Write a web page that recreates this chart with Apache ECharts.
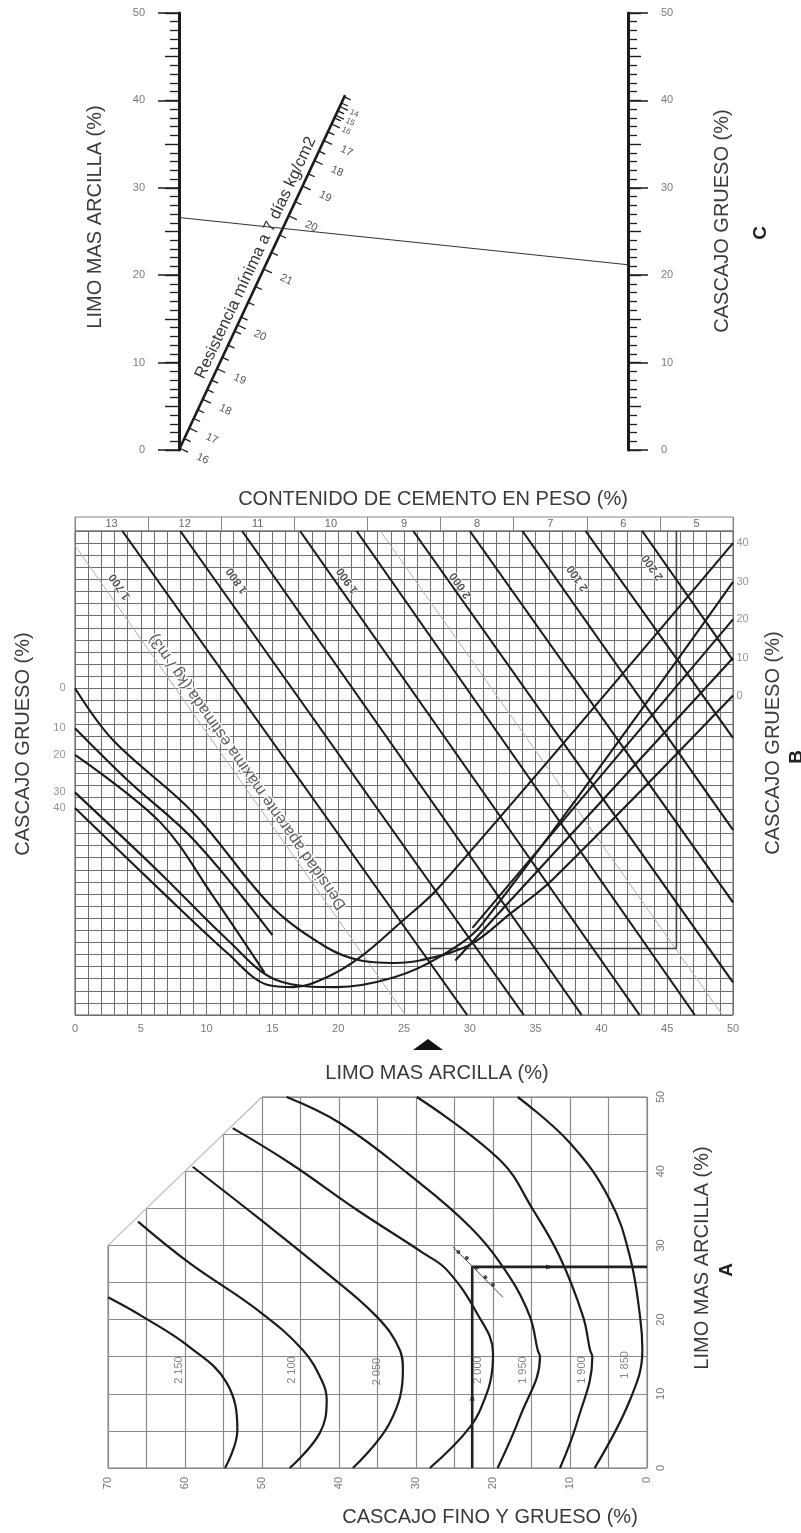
<!DOCTYPE html>
<html><head><meta charset="utf-8">
<script src="https://cdn.jsdelivr.net/npm/echarts@6/dist/echarts.min.js"></script>
<style>html,body{margin:0;padding:0;background:#fff}#c{width:801px;height:1533px}</style>
</head><body><div id="c"></div><script>
// ================= DATA =================
// ---- Panel C (nomograph) ----
const cLimoTicks = [0, 50];            // LIMO MAS ARCILLA scale range
const cCascajoTicks = [0, 50];         // CASCAJO GRUESO scale range
const cReadLine = [[0, 26.6], [100, 21.2]]; // reading line: LIMO 26.6 -> CASCAJO 21.2
const cDiagonal = [[0, 0], [37.0, 40.6]];   // resistance scale (x-position, LIMO level)
const cResLabels = ['16','17','18','19','20','21','20','19','18','17','16','15','14'];
const cResLabelPos = [0.2, 2.5, 5.8, 9.3, 14.3, 20.7, 26.8, 30.2, 33.1, 35.4, 37.3, 38.3, 39.3];
const cResMinorTicks = [1.3, 3.6, 4.6, 6.9, 8.0, 10.6, 12.0, 13.6, 15.2, 16.9, 18.7, 22.6, 24.6, 28.4, 31.6, 34.2, 36.4, 38.0, 38.8, 39.7, 40.4];
const cResTitle = 'Resistencia mínima a 7 días kg/cm2';

// ---- Panel B ----
const bCementLabels = ['13','12','11','10','9','8','7','6','5'];
const bDensityLines = [
  [[3.6,40],[29.8,0]], [[8.0,40],[34.1,0]], [[12.7,40],[38.5,0]], [[17.1,40],[42.9,0]],
  [[21.4,40],[47.1,0]], [[25.7,40],[50,2.7]], [[30.0,40],[50,9.3]], [[34.0,40],[50,15.3]],
  [[38.8,40],[50,22.9]], [[43.1,40],[50,29.3]]
];
const bGuideLines = [ [[0,38.8],[25.1,0]], [[23.2,40],[49.2,0]] ];
const bDensityLabels = ['1 700','1 800','1 900','2 000','2 100','2 200'];
const bDensityLabelPos = [[3.4,35.4],[12.3,35.9],[20.7,35.9],[29.3,35.5],[38.2,36.1],[43.9,37.0]];
const bDensityTitle = 'Densidad aparente máxima estimada (kg / m3)';
const bDensityTitlePos = [13.1, 20.1];
const bCurve0  = [[0,27.0],[2.9,22.7],[9.0,16.7],[15.0,8.9],[19.1,5.6],[21.7,4.5],[24.2,4.3],[26.2,4.5],[30.0,5.8],[33.1,8.4],[36.3,11.2],[50,26.4]];
const bCurve10 = [[0,23.7],[4.0,19.4],[9.0,14.5],[15.0,6.6]];
const bCurve20 = [[0,21.5],[6.5,15.9],[10.5,9.8],[14.4,3.5]];
const bCurve30 = [[0,18.4],[6.5,11.7],[11.6,6.2],[15.3,2.9],[19.9,2.3],[24.2,3.1],[27.7,4.8],[31.0,7.6],[50,35.8]];
const bCurve40 = [[0,17.1],[6.5,10.3],[11.6,5.1],[14.6,2.5],[16.6,2.3],[19.1,3.1],[21.7,4.8],[24.7,7.6],[27.7,10.6],[50,39.0]];
const bRise20  = [[30.2,7.2],[50,32.7]];
const bRise10  = [[28.9,4.5],[50,29.5]];
const bLeftLabels  = [['0',27.0],['10',23.7],['20',21.5],['30',18.4],['40',17.1]];
const bRightLabels = [['40',39.0],['30',35.8],['20',32.7],['10',29.5],['0',26.4]];
const bExamplePath = [[27.0,5.5],[45.7,5.5],[45.7,40]];

// ---- Panel A ----
const aChamfer = [[70,30],[50,50]];
const aCurve2150 = [[70,23],[65.5,20.4],[59.4,16.3],[54.6,11.5],[53.2,5.1],[54.8,0]];
const aCurve2100 = [[66.1,33.2],[59.4,27.6],[50.6,21.3],[44.7,15.9],[42.1,11.5],[41.6,9.2],[42.5,4.7],[46.4,0]];
const aCurve2050 = [[59.0,40.6],[50.6,33.8],[42.1,26.7],[35.1,20.4],[32.1,15.9],[31.7,13.2],[33.4,6.1],[38.2,0]];
const aCurve2000 = [[53.8,45.8],[46.4,41.1],[37.7,34.8],[29.1,29.0],[26.0,26.7],[22.1,20.9],[20.0,15.5],[20.1,13.2],[20.8,10.1],[23.0,5.5],[28.2,0]];
const aCurve1950 = [[46.8,50],[39.9,46.5],[31.2,39.8],[23.0,32.5],[17.8,25.7],[15.2,20.4],[14.2,15.9],[13.9,15.0],[16.5,6.9],[19.4,0]];
const aCurve1900 = [[29.9,50],[19.1,41.5],[14.8,34.8],[11.3,28.4],[8.3,20.4],[7.4,15.9],[7.1,15.0],[9.1,6.1],[11.3,0]];
const aCurve1850 = [[16.8,50],[10.0,43.8],[4.8,36.1],[2.2,28.4],[0.9,20.4],[0.6,15.9],[2.2,9.2],[6.8,0]];
const aLabels = ['2 150','2 100','2 050','2 000','1 950','1 900','1 850'];
const aLabelPos = [[60.8,13.2],[46.1,13.2],[35.1,13.0],[21.9,13.2],[16.1,13.2],[8.4,13.2],[2.9,13.9]];
const aPath = [[22.7,0],[22.7,27.1],[0,27.1]];
const aArrowUp = [22.7, 9.6];
const aArrowRight = [12.6, 27.1];
const aDotLine = [[25.2,29.8],[18.7,23.0]];
const aDots = [[24.5,29.1],[23.4,28.3],[22.1,27.0],[21.0,25.7],[20.0,24.7]];

// ================= CHART =================
const FONT = '"Liberation Sans", Arial, sans-serif';
const chart = echarts.init(document.getElementById('c'), null, {width: 801, height: 1533});
const INK = '#1c1c1c';
const GRIDC = '#6e6e6e';

function lineSeries(data, xi, yi, opts) {
  return Object.assign({
    type: 'line', xAxisIndex: xi, yAxisIndex: yi, data: data, showSymbol: false, symbol: 'none',
    lineStyle: {color: INK, width: 2.2}, z: 4, silent: true, animation: false
  }, opts || {});
}
function hiddenAxis(extra) {
  return Object.assign({type: 'value', axisLine: {show: false}, axisTick: {show: false},
    axisLabel: {show: false}, splitLine: {show: false}}, extra);
}
const tickLabel = {color: '#7a7a7a', fontSize: 11, fontFamily: FONT};

const series = [];
// --- C ---
series.push(lineSeries(cDiagonal, 0, 0, {lineStyle: {color: INK, width: 2.6}}));
series.push(lineSeries(cReadLine, 0, 0, {lineStyle: {color: '#333', width: 1.1}}));
const diagTicks = cResLabelPos.map(v => [v, 1]).concat(cResMinorTicks.map(v => [v, 0]));
function diagGeom(api, v) {
  const k = cDiagonal[1][0] / cDiagonal[1][1];
  const p = api.coord([v * k, v]);
  const p0 = api.coord(cDiagonal[0]), p1 = api.coord(cDiagonal[1]);
  const dx = p1[0] - p0[0], dy = p1[1] - p0[1], L = Math.hypot(dx, dy);
  return {p: p, nx: -dy / L, ny: dx / L, ang: Math.atan2(-dy, dx)};
}
series.push({
  type: 'custom', xAxisIndex: 0, yAxisIndex: 0, data: diagTicks, silent: true, z: 4,
  renderItem: (params, api) => {
    const g = diagGeom(api, api.value(0));
    const len = api.value(1) ? 9 : 7;
    return {type: 'line', shape: {x1: g.p[0], y1: g.p[1], x2: g.p[0] + g.nx * len, y2: g.p[1] + g.ny * len},
      style: {stroke: INK, lineWidth: 1.3}};
  }
});
series.push({
  type: 'custom', xAxisIndex: 0, yAxisIndex: 0, data: cResLabelPos.map((v, i) => [v, i]), silent: true, z: 4,
  renderItem: (params, api) => {
    const i = api.value(1);
    const g = diagGeom(api, api.value(0));
    const small = i >= 10;
    const off = small ? 16 : 25;
    return {type: 'text', x: g.p[0] + g.nx * off, y: g.p[1] + g.ny * off, rotation: g.ang - Math.PI / 2,
      style: {text: cResLabels[i], fill: '#555', font: (small ? 8 : 11) + 'px ' + FONT, align: 'center', verticalAlign: 'middle'}};
  }
});
series.push({
  type: 'custom', xAxisIndex: 0, yAxisIndex: 0, data: [[21.4]], silent: true, z: 4,
  renderItem: (params, api) => {
    const g = diagGeom(api, api.value(0));
    return {type: 'text', x: g.p[0] - g.nx * 12, y: g.p[1] - g.ny * 12, rotation: g.ang,
      style: {text: cResTitle, fill: '#333', font: '16.5px ' + FONT, align: 'center', verticalAlign: 'middle'}};
  }
});
// --- B ---
bDensityLines.forEach(d => series.push(lineSeries(d, 1, 4, {lineStyle: {color: INK, width: 2.1}})));
bGuideLines.forEach(d => series.push(lineSeries(d, 1, 4, {lineStyle: {color: '#b0b0b0', width: 1}, z: 3})));
[bCurve0, bCurve10, bCurve20, bCurve30, bCurve40].forEach(d => series.push(lineSeries(d, 1, 4, {smooth: 0.35, lineStyle: {color: INK, width: 2.1}})));
[bRise20, bRise10].forEach(d => series.push(lineSeries(d, 1, 4, {lineStyle: {color: INK, width: 2.1}})));
series.push(lineSeries(bExamplePath, 1, 4, {lineStyle: {color: '#444', width: 1.6}, z: 3}));
series.push({type: 'scatter', xAxisIndex: 1, yAxisIndex: 4, symbolSize: 1, itemStyle: {color: 'rgba(0,0,0,0)'}, silent: true, z: 6,
  data: bDensityLabels.map((t, i) => ({value: bDensityLabelPos[i], name: t})),
  label: {show: true, formatter: p => p.name, rotate: 125, color: '#2a2a2a', fontWeight: 'bold', fontSize: 11.5, fontFamily: FONT,
    position: 'inside', textBorderColor: '#fff', textBorderWidth: 2}});
series.push({type: 'scatter', xAxisIndex: 1, yAxisIndex: 4, symbolSize: 1, itemStyle: {color: 'rgba(0,0,0,0)'}, silent: true, z: 6,
  data: [{value: bDensityTitlePos, name: bDensityTitle}],
  label: {show: true, formatter: p => p.name, rotate: 125, color: '#333', fontSize: 16, fontFamily: FONT,
    position: 'inside', textBorderColor: '#fff', textBorderWidth: 3}});
series.push({type: 'scatter', xAxisIndex: 1, yAxisIndex: 4, symbolSize: 1, itemStyle: {color: 'rgba(0,0,0,0)'}, silent: true, clip: false,
  data: bLeftLabels.map(d => ({value: [0, d[1]], name: d[0]})),
  label: {show: true, formatter: p => p.name, position: 'left', distance: 9, color: '#7a7a7a', fontSize: 11, fontFamily: FONT}});
series.push({type: 'scatter', xAxisIndex: 1, yAxisIndex: 4, symbolSize: 1, itemStyle: {color: 'rgba(0,0,0,0)'}, silent: true, clip: false,
  data: bRightLabels.map(d => ({value: [50, d[1]], name: d[0]})),
  label: {show: true, formatter: p => p.name, position: 'right', distance: 3, color: '#7a7a7a', fontSize: 11, fontFamily: FONT}});
// --- A ---
series.push({
  type: 'custom', xAxisIndex: 5, yAxisIndex: 7, data: [[0]], silent: true, z: 3,
  renderItem: (params, api) => {
    const a = api.coord(aChamfer[0]), b = api.coord(aChamfer[1]);
    const c = [a[0], b[1]];
    return {type: 'group', children: [
      {type: 'polygon', shape: {points: [[a[0] - 3, a[1]], [c[0] - 3, c[1] - 3], [b[0], b[1] - 3], b, a]}, style: {fill: '#fff'}},
      {type: 'line', shape: {x1: a[0], y1: a[1], x2: b[0], y2: b[1]}, style: {stroke: '#bdbdbd', lineWidth: 1.2}}
    ]};
  }
});
[aCurve2150, aCurve2100, aCurve2050, aCurve2000, aCurve1950, aCurve1900, aCurve1850].forEach(d =>
  series.push(lineSeries(d, 5, 7, {smooth: 0.4, lineStyle: {color: INK, width: 2.2}})));
series.push(lineSeries(aPath, 5, 7, {lineStyle: {color: '#222', width: 2.6}, z: 5}));
series.push(lineSeries(aDotLine, 5, 7, {lineStyle: {color: '#444', width: 1}, z: 5}));
series.push({type: 'scatter', xAxisIndex: 5, yAxisIndex: 7, data: aDots, symbolSize: 4, itemStyle: {color: '#222'}, silent: true, z: 6});
series.push({type: 'scatter', xAxisIndex: 5, yAxisIndex: 7, data: [aArrowUp], symbol: 'triangle', symbolSize: [5, 8], itemStyle: {color: '#222'}, silent: true, z: 6});
series.push({type: 'scatter', xAxisIndex: 5, yAxisIndex: 7, data: [aArrowRight], symbol: 'triangle', symbolRotate: -90, symbolSize: [5, 8], itemStyle: {color: '#222'}, silent: true, z: 6});
series.push({type: 'scatter', xAxisIndex: 5, yAxisIndex: 7, symbolSize: 1, itemStyle: {color: 'rgba(0,0,0,0)'}, silent: true, z: 6,
  data: aLabels.map((t, i) => ({value: aLabelPos[i], name: t})),
  label: {show: true, formatter: p => p.name, rotate: 90, position: 'inside', color: '#666', fontSize: 11, fontFamily: FONT}});

const vTitle = (text, x, y, extra) => Object.assign({type: 'text', x: x, y: y, rotation: Math.PI / 2,
  style: {text: text, font: '20px ' + FONT, fill: '#3a3a3a', align: 'center', verticalAlign: 'middle', textAlign: 'center', textVerticalAlign: 'middle'}}, extra || {});
const hTitle = (text, x, y) => ({type: 'text', x: x, y: y,
  style: {text: text, font: '20px ' + FONT, fill: '#3a3a3a', align: 'center', verticalAlign: 'middle', textAlign: 'center', textVerticalAlign: 'middle'}});
const letter = (t, x, y) => vTitle(t, x, y, {style: {text: t, font: 'bold 19px ' + FONT, fill: '#222', align: 'center', verticalAlign: 'middle', textAlign: 'center', textVerticalAlign: 'middle'}});

const option = {
  animation: false,
  backgroundColor: '#fff',
  textStyle: {fontFamily: FONT},
  grid: [
    {left: 179, top: 13, width: 449, height: 437, outerBoundsMode: 'none'},
    {left: 75, top: 531, width: 658, height: 484, show: true, borderColor: '#555', borderWidth: 1, outerBoundsMode: 'none'},
    {left: 75, top: 517, width: 658, height: 14, show: true, borderColor: '#888', borderWidth: 1, outerBoundsMode: 'none'},
    {left: 108, top: 1097, width: 539, height: 371, show: true, borderColor: '#777', borderWidth: 1, outerBoundsMode: 'none'}
  ],
  xAxis: [
    Object.assign(hiddenAxis({gridIndex: 0, min: 0, max: 100}), {show: false}),
    hiddenAxis({gridIndex: 1, position: 'bottom', min: 0, max: 50, interval: 1, splitLine: {show: true, lineStyle: {color: GRIDC, width: 1}}}),
    hiddenAxis({gridIndex: 1, position: 'bottom', min: 0, max: 50, interval: 5, axisLabel: Object.assign({show: true, margin: 8}, tickLabel)}),
    {type: 'category', gridIndex: 2, position: 'bottom', data: bCementLabels, boundaryGap: true, axisLine: {show: false},
      axisTick: {show: true, inside: true, length: 14, lineStyle: {color: '#888'}},
      axisLabel: Object.assign({inside: true, margin: 2}, tickLabel, {color: '#666'}), splitLine: {show: false}},
    hiddenAxis({gridIndex: 3, position: 'bottom', min: 0, max: 70, interval: 10, inverse: true, axisLabel: Object.assign({show: true, rotate: 90, margin: 9}, tickLabel)}),
    hiddenAxis({gridIndex: 3, position: 'bottom', min: 0, max: 70, interval: 5, inverse: true, splitLine: {show: true, lineStyle: {color: '#8a8a8a', width: 1.2}}})
  ],
  yAxis: [
    {type: 'value', gridIndex: 0, position: 'left', min: cLimoTicks[0], max: cLimoTicks[1], interval: 10,
      axisLine: {show: true, lineStyle: {color: INK, width: 3}}, axisTick: {show: true, length: 21, lineStyle: {color: INK, width: 1.5}},
      axisLabel: Object.assign({margin: 34}, tickLabel), splitLine: {show: false}},
    {type: 'value', gridIndex: 0, position: 'left', min: cLimoTicks[0], max: cLimoTicks[1], interval: 5,
      axisLine: {show: false}, axisTick: {show: true, length: 14, lineStyle: {color: INK, width: 1.4}},
      minorTick: {show: true, splitNumber: 5, length: 9, lineStyle: {color: INK, width: 1.3}},
      axisLabel: {show: false}, splitLine: {show: false}},
    {type: 'value', gridIndex: 0, position: 'right', min: cCascajoTicks[0], max: cCascajoTicks[1], interval: 10,
      axisLine: {show: true, lineStyle: {color: INK, width: 3}}, axisTick: {show: true, length: 20, lineStyle: {color: INK, width: 1.5}},
      axisLabel: Object.assign({margin: 33}, tickLabel), splitLine: {show: false}},
    {type: 'value', gridIndex: 0, position: 'right', min: cCascajoTicks[0], max: cCascajoTicks[1], interval: 5,
      axisLine: {show: false}, axisTick: {show: true, length: 13, lineStyle: {color: INK, width: 1.4}},
      minorTick: {show: true, splitNumber: 5, length: 9, lineStyle: {color: INK, width: 1.3}},
      axisLabel: {show: false}, splitLine: {show: false}},
    hiddenAxis({gridIndex: 1, position: 'left', min: 0, max: 40, interval: 1, splitLine: {show: true, lineStyle: {color: GRIDC, width: 1}}}),
    Object.assign(hiddenAxis({gridIndex: 2, min: 0, max: 1}), {show: false}),
    hiddenAxis({gridIndex: 3, min: 0, max: 50, interval: 10, position: 'right', axisLabel: Object.assign({show: true, rotate: 90, margin: 8}, tickLabel)}),
    hiddenAxis({gridIndex: 3, min: 0, max: 50, interval: 5, position: 'right', splitLine: {show: true, lineStyle: {color: '#8a8a8a', width: 1.2}}})
  ],
  graphic: [
    vTitle('LIMO MAS ARCILLA (%)', 95, 217),
    vTitle('CASCAJO GRUESO (%)', 722, 221),
    letter('C', 761, 233),
    hTitle('CONTENIDO DE CEMENTO EN PESO (%)', 433, 499),
    vTitle('CASCAJO GRUESO (%)', 23, 744),
    vTitle('CASCAJO GRUESO (%)', 773, 743),
    letter('B', 797, 757),
    {type: 'polygon', shape: {points: [[413, 1050], [443, 1050], [428, 1039]]}, style: {fill: '#111'}},
    hTitle('LIMO MAS ARCILLA (%)', 437, 1073),
    hTitle('CASCAJO FINO Y GRUESO (%)', 490, 1517),
    vTitle('LIMO MAS ARCILLA (%)', 702, 1258),
    letter('A', 727, 1270)
  ],
  series: series
};
chart.setOption(option);
</script></body></html>
